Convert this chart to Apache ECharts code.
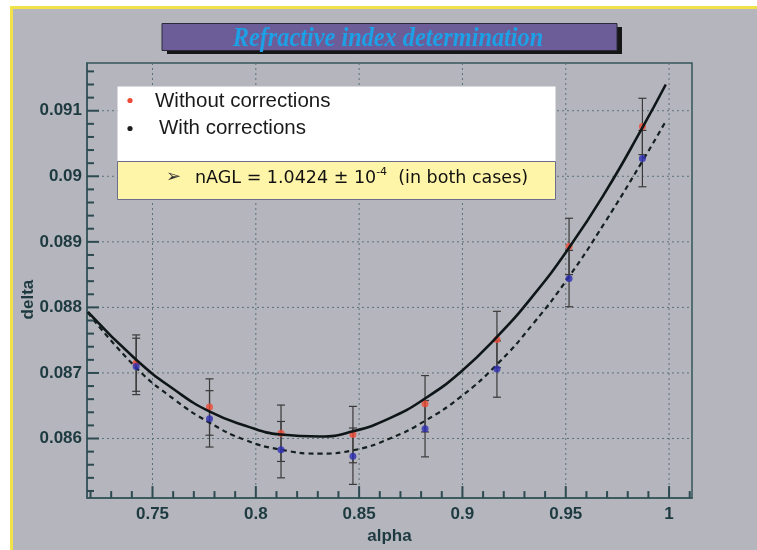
<!DOCTYPE html>
<html><head><meta charset="utf-8">
<script src="https://cdn.jsdelivr.net/npm/echarts@6/dist/echarts.min.js"></script>
<style>html,body{margin:0;padding:0;background:#fff}#c{width:757px;height:550px}</style>
</head><body><div id="c"></div>
<script>
// ---- data ----
const alphaPts = [0.7421, 0.7776, 0.8122, 0.8470, 0.8819, 0.9167, 0.9516, 0.9871];
const deltaNoCorr = [0.08715, 0.08648, 0.08608, 0.08606, 0.08653, 0.08751, 0.08893, 0.09076];
const deltaCorr = [0.08710, 0.08630, 0.08583, 0.08573, 0.08615, 0.08706, 0.08844, 0.09027];
const errNoCorr = [0.00043, 0.00043, 0.00043, 0.00043, 0.00043, 0.00043, 0.00043, 0.00043];
const errCorr = [0.00043, 0.00043, 0.00043, 0.00043, 0.00043, 0.00043, 0.00043, 0.00043];

const curveAlpha = [0.7187, 0.7421, 0.7608, 0.7777, 0.7946, 0.8121, 0.8310, 0.8470, 0.8649, 0.8819, 0.8993, 0.9167, 0.9342, 0.9516, 0.9690, 0.9869, 0.9984];
const fitNoCorr = [0.08793, 0.08720, 0.08674, 0.08641, 0.08620, 0.08606, 0.08603, 0.08611, 0.08631, 0.08661, 0.08702, 0.08755, 0.08818, 0.08891, 0.08975, 0.09073, 0.09140];
const fitCorr = [0.08792, 0.08708, 0.08659, 0.08624, 0.08598, 0.08583, 0.08577, 0.08582, 0.08600, 0.08627, 0.08664, 0.08713, 0.08775, 0.08847, 0.08930, 0.09022, 0.09084];

const xMajor = [0.75, 0.8, 0.85, 0.9, 0.95, 1];
const xMinor = [0.72, 0.73, 0.74, 0.76, 0.77, 0.78, 0.79, 0.81, 0.82, 0.83, 0.84, 0.86, 0.87, 0.88, 0.89, 0.91, 0.92, 0.93, 0.94, 0.96, 0.97, 0.98, 0.99, 1.01];
const yMajor = [0.086, 0.087, 0.088, 0.089, 0.09, 0.091];
const yMinor = [0.0852, 0.0854, 0.0856, 0.0858, 0.0862, 0.0864, 0.0866, 0.0868, 0.0872, 0.0874, 0.0876, 0.0878, 0.0882, 0.0884, 0.0886, 0.0888, 0.0892, 0.0894, 0.0896, 0.0898, 0.0902, 0.0904, 0.0906, 0.0908, 0.0912, 0.0914, 0.0916];

const X_MIN = 0.7183, X_MAX = 1.0111, Y_MIN = 0.085091, Y_MAX = 0.091728;

// ---- styles ----
const FRAME = '#34555a';
const TICK = '#2c4a50';
const LABEL = '#1d3a40';
const GRID = '#5b727a';

const errData = (vals, errs) => alphaPts.map((a, i) => [a, vals[i] - errs[i], vals[i] + errs[i]]);
function errRender(params, api) {
  const x = api.value(0);
  const p1 = api.coord([x, api.value(1)]);
  const p2 = api.coord([x, api.value(2)]);
  const st = {stroke: '#3a3a3a', lineWidth: 1.2};
  const w = 4;
  return {type: 'group', children: [
    {type: 'line', shape: {x1: p1[0], y1: p1[1], x2: p2[0], y2: p2[1]}, style: st},
    {type: 'line', shape: {x1: p1[0] - w, y1: p1[1], x2: p1[0] + w, y2: p1[1]}, style: st},
    {type: 'line', shape: {x1: p2[0] - w, y1: p2[1], x2: p2[0] + w, y2: p2[1]}, style: st}
  ]};
}

// grid lines: [x, y, orientation] (0 = vertical at x, 1 = horizontal at y)
const gridData = [...xMajor.map(v => [v, Y_MIN, 0]), ...yMajor.map(v => [X_MIN, v, 1])];
function gridRender(params, api) {
  const cs = params.coordSys;
  const p = api.coord([api.value(0), api.value(1)]);
  const st = {stroke: GRID, lineWidth: 1, lineDash: [2, 3]};
  if (api.value(2) === 0) return {type: 'line', shape: {x1: p[0], y1: cs.y, x2: p[0], y2: cs.y + cs.height}, style: st};
  return {type: 'line', shape: {x1: cs.x, y1: p[1], x2: cs.x + cs.width, y2: p[1]}, style: st};
}
// inward ticks: [x, y, orientation, length]
const tickData = [
  ...xMajor.map(v => [v, Y_MIN, 0, 12]), ...xMinor.map(v => [v, Y_MIN, 0, 7]),
  ...yMajor.map(v => [X_MIN, v, 1, 12]), ...yMinor.map(v => [X_MIN, v, 1, 7])
];
function tickRender(params, api) {
  const p = api.coord([api.value(0), api.value(1)]);
  const len = api.value(3);
  const st = {fill: TICK};
  if (api.value(2) === 0) return {type: 'rect', shape: {x: p[0] - 1, y: p[1] - len, width: 2, height: len}, style: st};
  return {type: 'rect', shape: {x: p[0], y: p[1] - 1, width: len, height: 2}, style: st};
}

const labelFont = {color: LABEL, fontFamily: 'Liberation Sans', fontWeight: 'bold', fontSize: 17};

const chart = echarts.init(document.getElementById('c'));
chart.setOption({
  backgroundColor: '#b5b5bd',
  animation: false,
  grid: {left: 87, right: 65, top: 63, bottom: 51, show: true, borderColor: FRAME, borderWidth: 1.5},
  xAxis: {
    type: 'value', min: X_MIN, max: X_MAX, position: 'bottom',
    name: 'alpha', nameLocation: 'middle', nameGap: 28, nameTextStyle: labelFont,
    axisLine: {show: true, lineStyle: {color: FRAME, width: 1.5}},
    axisTick: {show: false},
    axisLabel: {customValues: xMajor, margin: 8, formatter: v => String(v), ...labelFont},
    splitLine: {show: false}
  },
  yAxis: {
    type: 'value', min: Y_MIN, max: Y_MAX, position: 'left',
    name: 'delta', nameLocation: 'middle', nameGap: 50, nameRotate: 90, nameMoveOverlap: false,
    nameTextStyle: {...labelFont, padding: [0, 38, 0, 0]},
    axisLine: {show: true, lineStyle: {color: FRAME, width: 1.5}},
    axisTick: {show: false},
    axisLabel: {customValues: yMajor, margin: 5, formatter: v => String(v), ...labelFont},
    splitLine: {show: false}
  },
  series: [
    {type: 'custom', name: 'ticks', renderItem: tickRender, data: tickData, encode: {x: 0, y: 1}, clip: false, z: 10, zlevel: 1},
    {type: 'custom', name: 'gridlines', renderItem: gridRender, data: gridData, encode: {x: 0, y: 1}, clip: false, z: 0},
    {type: 'custom', name: 'errNo', renderItem: errRender, data: errData(deltaNoCorr, errNoCorr), encode: {x: 0, y: [1, 2]}, z: 1},
    {type: 'custom', name: 'errCorr', renderItem: errRender, data: errData(deltaCorr, errCorr), encode: {x: 0, y: [1, 2]}, z: 1},
    {type: 'scatter', name: 'Without corrections', data: alphaPts.map((a, i) => [a, deltaNoCorr[i]]), symbol: 'circle', symbolSize: 7, itemStyle: {color: '#ef4a36'}, z: 2},
    {type: 'line', name: 'fit without', data: curveAlpha.map((a, i) => [a, fitNoCorr[i]]), smooth: true, showSymbol: false, lineStyle: {color: '#0e1618', width: 2.6}, z: 3},
    {type: 'line', name: 'fit with', data: curveAlpha.map((a, i) => [a, fitCorr[i]]), smooth: true, showSymbol: false, lineStyle: {color: '#14201f', width: 2.2, type: [5, 4]}, z: 3},
    {type: 'scatter', name: 'With corrections', data: alphaPts.map((a, i) => [a, deltaCorr[i]]), symbol: 'circle', symbolSize: 7, itemStyle: {color: '#2e2eb4'}, z: 4}
  ],
  graphic: [
    {type: 'rect', shape: {x: 0, y: 0, width: 757, height: 6}, style: {fill: '#ffffff'}, z: 50},
    {type: 'rect', shape: {x: 0, y: 0, width: 10, height: 550}, style: {fill: '#ffffff'}, z: 50},
    {type: 'rect', shape: {x: 10, y: 6, width: 747, height: 3}, style: {fill: '#f2e24a'}, z: 50},
    {type: 'rect', shape: {x: 10, y: 6, width: 3, height: 544}, style: {fill: '#f2e24a'}, z: 50},
    // title box
    {type: 'rect', shape: {x: 167, y: 27, width: 455, height: 27}, style: {fill: '#161616'}, z: 50},
    {type: 'rect', shape: {x: 162, y: 23.5, width: 455, height: 27}, style: {fill: '#6c5c98', stroke: '#2a2a3a', lineWidth: 1}, z: 51},
    {type: 'text', x: 388, y: 39, scaleX: 0.9, style: {text: 'Refractive index determination', font: 'italic bold 27px "Liberation Serif"', fill: '#1ea0e6', align: 'center', verticalAlign: 'middle'}, z: 52},
    // legend / note box
    {type: 'rect', shape: {x: 117.5, y: 86.5, width: 438, height: 75}, style: {fill: '#ffffff'}, z: 60},
    {type: 'rect', shape: {x: 117.5, y: 161.5, width: 438, height: 38}, style: {fill: '#fff5a8', stroke: '#6c6c8c', lineWidth: 1}, z: 61},
    {type: 'circle', shape: {cx: 130, cy: 100.5, r: 2.6}, style: {fill: '#ef4a36'}, z: 62},
    {type: 'circle', shape: {cx: 130, cy: 128.5, r: 2.6}, style: {fill: '#1e1e1e'}, z: 62},
    {type: 'text', x: 155, y: 101, style: {text: 'Without corrections', font: '20.5px "Liberation Sans"', fill: '#1a1a1a', align: 'left', verticalAlign: 'middle'}, z: 62},
    {type: 'text', x: 159, y: 128, style: {text: 'With corrections', font: '20.5px "Liberation Sans"', fill: '#1a1a1a', align: 'left', verticalAlign: 'middle'}, z: 62},
    {type: 'text', x: 166, y: 177, style: {text: '\u27A2', font: '18px "DejaVu Sans"', fill: '#333', align: 'left', verticalAlign: 'middle'}, z: 62},
    {type: 'text', x: 195, y: 177, style: {
      text: '{b|nAGL = 1.0424 \u00B1 10}{s|-4}{b|  (in both cases)}',
      align: 'left', verticalAlign: 'middle',
      rich: {
        b: {font: '17.5px "DejaVu Sans"', fill: '#111', color: '#111', lineHeight: 20, verticalAlign: 'bottom'},
        s: {font: '11px "DejaVu Sans"', fill: '#111', color: '#111', lineHeight: 20, verticalAlign: 'top', padding: [0, 0, 8, 0]}
      }}, z: 62}
  ]
});
</script></body></html>
